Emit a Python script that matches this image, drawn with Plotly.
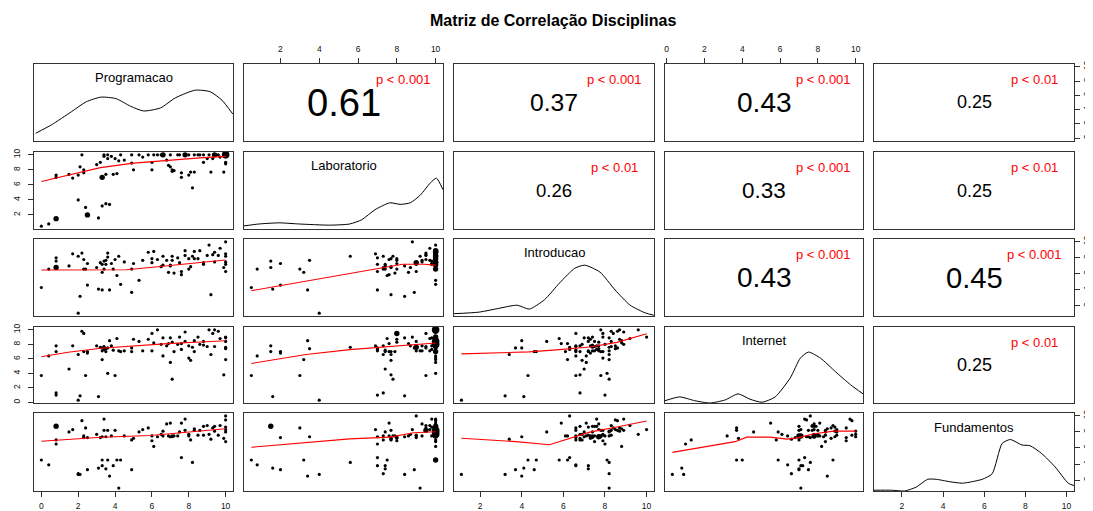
import plotly.graph_objects as go
from collections import Counter

# ---------------- data ----------------
variables = ["Programacao", "Laboratorio", "Introducao", "Internet", "Fundamentos"]

programacao = [0.0, 0.4, 0.8, 0.8, 0.8, 0.8, 1.5, 1.7, 2.0, 2.0,
               2.1, 2.2, 2.3, 2.5, 2.5, 2.4, 2.3, 3.0, 3.1, 3.2,
               3.3, 3.3, 3.3, 3.4, 3.4, 3.5, 3.5, 3.6, 3.6, 3.7,
               3.8, 3.9, 4.0, 4.1, 4.2, 4.3, 4.5, 4.9, 4.9, 5.0,
               5.3, 5.5, 5.8, 6.0, 6.0, 6.1, 6.3, 6.5, 6.6, 6.6,
               6.8, 6.9, 7.0, 7.0, 7.1, 7.1, 7.2, 7.4, 7.5, 7.6,
               7.6, 7.8, 7.8, 8.0, 8.0, 8.1, 8.2, 8.3, 8.3, 8.5,
               8.6, 8.8, 8.8, 9.0, 9.1, 9.2, 9.3, 9.4, 9.4, 9.6,
               9.7, 9.9, 10.0, 10.0, 10.0, 10.0, 10.0, 10.0]
laboratorio = [0.5, 0.8, 1.5, 1.5, 7.0, 7.3, 7.4, 6.9, 4.0, 7.3,
               8.4, 10.0, 8.0, 2.0, 2.0, 3.0, 7.6, 8.7, 1.6, 9.0,
               3.2, 7.0, 7.0, 10.0, 9.8, 3.5, 7.4, 9.5, 10.0, 3.4,
               9.8, 7.4, 9.5, 7.5, 9.2, 10.0, 9.3, 10.0, 8.9, 8.0,
               10.0, 9.7, 10.0, 9.0, 8.0, 10.0, 10.0, 10.0, 10.0, 10.0,
               9.3, 8.6, 8.4, 10.0, 8.0, 7.8, 7.9, 10.0, 10.0, 7.6,
               7.0, 10.0, 10.0, 10.0, 7.3, 7.7, 5.6, 7.7, 10.0, 10.0,
               10.0, 10.0, 9.0, 9.5, 10.0, 7.7, 9.5, 10.0, 10.0, 10.0,
               9.7, 7.7, 8.8, 10.0, 10.0, 9.8, 10.0, 9.0]
introducao = [4.3, 6.6, 7.6, 6.8, 8.0, 6.8, 7.0, 8.5, 1.1, 8.2,
              3.2, 8.6, 6.6, 4.6, 7.3, 6.6, 7.8, 6.8, 4.1, 7.4,
              6.2, 7.2, 4.0, 6.6, 7.6, 7.7, 7.2, 8.6, 8.1, 4.0,
              7.3, 6.6, 7.8, 5.8, 8.2, 4.7, 7.5, 6.6, 3.7, 7.3,
              5.2, 7.7, 8.7, 7.4, 7.9, 8.8, 7.8, 6.9, 8.2, 7.1,
              7.7, 6.2, 7.0, 7.1, 7.7, 8.2, 6.1, 8.0, 7.4, 5.9,
              6.3, 8.3, 8.9, 7.9, 6.6, 6.9, 8.2, 7.9, 8.8, 7.9,
              8.9, 7.4, 7.2, 8.3, 9.6, 3.4, 8.4, 8.7, 7.5, 8.3,
              9.2, 6.8, 10.0, 7.5, 8.5, 7.2, 8.2, 6.3]
internet = [3.7, 6.4, 7.8, 7.0, 1.0, 1.3, 4.6, 7.8, 0.3, 6.6,
            0.9, 9.8, 9.5, 7.0, 6.8, 3.7, 7.0, 7.8, 0.8, 7.6,
            5.9, 7.1, 7.5, 7.7, 7.3, 7.4, 7.0, 7.5, 4.0, 8.5,
            7.8, 7.2, 3.7, 8.8, 7.1, 7.0, 7.1, 7.0, 7.5, 8.7,
            8.4, 7.1, 8.7, 7.1, 9.5, 8.2, 10.0, 8.0, 8.9, 6.4,
            7.8, 8.1, 8.9, 5.5, 8.3, 3.2, 7.0, 8.0, 9.0, 8.1,
            7.3, 8.4, 9.7, 6.1, 7.8, 5.8, 7.6, 7.0, 8.5, 9.0,
            8.0, 7.9, 8.4, 7.7, 10.0, 6.6, 9.5, 10.0, 7.7, 9.8,
            8.8, 3.8, 9.0, 8.4, 7.4, 8.9, 5.9, 7.6]
fundamentos = [4.5, 3.9, 8.7, 8.7, 6.5, 7.0, 8.0, 8.3, 2.7, 2.8,
               2.7, 9.4, 7.3, 3.3, 7.3, 8.5, 7.5, 7.7, 3.5, 7.3,
               4.5, 3.8, 7.4, 8.2, 9.6, 7.4, 3.4, 8.2, 4.5, 2.5,
               7.5, 3.8, 8.2, 4.5, 1.0, 4.5, 7.5, 7.0, 3.3, 7.2,
               8.0, 8.3, 8.5, 7.5, 6.9, 6.2, 7.4, 7.7, 8.1, 7.5,
               9.0, 7.5, 7.4, 9.1, 7.4, 7.5, 7.5, 7.5, 8.0, 9.1,
               4.8, 8.2, 9.6, 7.7, 7.5, 7.0, 4.2, 8.2, 8.4, 7.6,
               8.2, 8.7, 7.6, 8.8, 7.7, 7.1, 8.5, 8.1, 8.7, 7.6,
               8.8, 7.2, 8.3, 6.8, 9.5, 8.6, 8.0, 10.0]

# correlations shown in the upper panels (row var, col var)
cor_pairs = [(0, 1), (0, 2), (0, 3), (0, 4), (1, 2), (1, 3), (1, 4), (2, 3), (2, 4), (3, 4)]
cor_values = [0.61, 0.37, 0.43, 0.25, 0.26, 0.33, 0.25, 0.43, 0.45, 0.25]
p_labels = ["p < 0.001", "p < 0.001", "p < 0.001", "p < 0.01", "p < 0.01",
            "p < 0.001", "p < 0.01", "p < 0.001", "p < 0.001", "p < 0.01"]

# smoothed (lowess) curves: x = column var, y = row var
smooth_lab_prog_x = [0.0, 1.5, 3.2, 5.0, 6.8, 8.6, 10.0]
smooth_lab_prog_y = [6.45, 7.3, 8.3, 8.9, 9.3, 9.6, 9.8]
smooth_int_prog_x = [0.0, 2.3, 4.6, 5.9, 7.7, 10.0]
smooth_int_prog_y = [6.48, 6.48, 6.52, 6.8, 7.23, 7.74]
smooth_net_prog_x = [0.0, 1.45, 3.24, 5.03, 6.83, 8.62, 10.0]
smooth_net_prog_y = [6.28, 6.91, 7.45, 7.82, 8.09, 8.32, 8.5]
smooth_fun_prog_x = [0.0, 3.24, 5.9, 7.9, 10.0]
smooth_fun_prog_y = [6.84, 7.34, 7.55, 7.97, 8.4]
smooth_int_lab_x = [0.5, 5.6, 7.0, 8.3, 9.4, 10.0]
smooth_int_lab_y = [3.9, 6.1, 6.7, 7.2, 7.2, 7.1]
smooth_net_lab_x = [0.5, 3.32, 5.57, 7.3, 10.0]
smooth_net_lab_y = [5.36, 6.59, 7.27, 7.64, 8.19]
smooth_fun_lab_x = [0.5, 3.32, 5.57, 7.65, 8.51, 8.86, 10.0]
smooth_fun_lab_y = [6.09, 6.72, 7.13, 7.35, 7.68, 7.89, 8.02]
smooth_net_int_x = [1.1, 2.75, 4.36, 5.82, 7.27, 8.57, 10.0]
smooth_net_int_y = [6.68, 6.82, 6.96, 7.27, 7.64, 8.27, 9.45]
smooth_fun_int_x = [1.1, 2.42, 3.72, 5.33, 5.98, 7.27, 8.57, 10.0]
smooth_fun_int_y = [7.22, 7.05, 6.79, 6.41, 6.92, 7.98, 8.61, 9.37]
smooth_fun_net_x = [0.3, 1.93, 3.62, 4.24, 5.48, 6.37, 6.9, 7.8, 8.85, 10.0]
smooth_fun_net_y = [5.45, 6.09, 6.79, 7.35, 7.35, 7.1, 7.26, 7.77, 8.1, 8.1]

# density curves on the diagonal: x in variable units, height as share of panel
dens_prog_x = [-0.31, 0.55, 1.63, 2.44, 3.24, 4.05, 4.85, 5.55, 6.47, 7.27, 8.35, 9.16, 9.8, 10.39]
dens_prog_h = [0.10, 0.21, 0.38, 0.51, 0.57, 0.55, 0.45, 0.39, 0.43, 0.56, 0.66, 0.64, 0.53, 0.35]
dens_lab_x = [0.12, 0.89, 1.93, 2.97, 4.53, 5.57, 6.19, 6.87, 7.64, 8.17, 8.69, 9.21, 9.73, 10.04, 10.38]
dens_lab_h = [0.04, 0.065, 0.08, 0.065, 0.05, 0.065, 0.12, 0.25, 0.34, 0.32, 0.34, 0.44, 0.6, 0.66, 0.51]
dens_int_x = [0.75, 1.94, 2.91, 3.78, 4.36, 5.09, 5.82, 6.55, 7.03, 7.76, 8.48, 9.21, 9.94, 10.35]
dens_int_h = [0.03, 0.05, 0.10, 0.14, 0.09, 0.21, 0.43, 0.62, 0.66, 0.57, 0.34, 0.14, 0.04, 0.01]
dens_net_x = [-0.09, 0.69, 1.49, 2.29, 3.09, 3.78, 4.41, 5.05, 5.74, 6.54, 7.07, 7.5, 8.14, 8.94, 9.73, 10.39]
dens_net_h = [0.03, 0.08, 0.03, 0.0, 0.04, 0.12, 0.05, 0.01, 0.08, 0.33, 0.59, 0.67, 0.59, 0.41, 0.24, 0.12]
dens_fun_x = [0.64, 1.5, 2.13, 2.69, 3.25, 3.66, 4.3, 4.94, 5.42, 5.9, 6.38, 6.87, 7.27, 7.83, 8.23, 8.79, 9.44, 10.08, 10.36]
dens_fun_h = [0.01, 0.01, 0.0, 0.05, 0.15, 0.15, 0.12, 0.10, 0.12, 0.15, 0.22, 0.61, 0.66, 0.59, 0.58, 0.48, 0.31, 0.10, 0.07]

title_text = "Matriz de Correlação Disciplinas"

# ---------------- layout geometry ----------------
W, H = 1093, 511
OFF = 8  # the page body adds an 8px margin; compensate so panels land where the reference has them
col_px = [(34, 233), (244, 443), (454, 654), (665, 863), (874, 1074)]
row_px = [(64, 141), (152, 229), (239, 316), (327, 403), (413, 491)]
FONT = "Liberation Sans, Arial, Helvetica, sans-serif"
BOX = "#333333"

data = [programacao, laboratorio, introducao, internet, fundamentos]
smooth = {
    (1, 0): (smooth_lab_prog_x, smooth_lab_prog_y),
    (2, 0): (smooth_int_prog_x, smooth_int_prog_y),
    (3, 0): (smooth_net_prog_x, smooth_net_prog_y),
    (4, 0): (smooth_fun_prog_x, smooth_fun_prog_y),
    (2, 1): (smooth_int_lab_x, smooth_int_lab_y),
    (3, 1): (smooth_net_lab_x, smooth_net_lab_y),
    (4, 1): (smooth_fun_lab_x, smooth_fun_lab_y),
    (3, 2): (smooth_net_int_x, smooth_net_int_y),
    (4, 2): (smooth_fun_int_x, smooth_fun_int_y),
    (4, 3): (smooth_fun_net_x, smooth_fun_net_y),
}
dens = [(dens_prog_x, dens_prog_h), (dens_lab_x, dens_lab_h), (dens_int_x, dens_int_h),
        (dens_net_x, dens_net_h), (dens_fun_x, dens_fun_h)]

ranges = []
ticks = []
for v in data:
    lo, hi = min(v), max(v)
    pad = 0.04 * (hi - lo)
    ranges.append([lo - pad, hi + pad])
    ticks.append([t for t in range(0, 11, 2) if lo - pad <= t <= hi + pad])

fig = go.Figure()
layout = {}
annotations = []

for i in range(5):
    for j in range(5):
        k = i * 5 + j + 1
        sfx = "" if k == 1 else str(k)
        xa, ya = "x" + sfx, "y" + sfx
        x0, x1 = (c - OFF for c in col_px[j])
        y0, y1 = (r - OFF for r in row_px[i])
        show_x = (i == 4 and j % 2 == 0) or (i == 0 and j % 2 == 1)
        show_y = (j == 0 and i % 2 == 1) or (j == 4 and i % 2 == 0)
        x_side = "top" if i == 0 else "bottom"
        y_side = "right" if j == 4 else "left"
        layout["xaxis" + sfx] = dict(
            domain=[x0 / W, x1 / W], range=ranges[j], anchor=ya,
            showgrid=False, zeroline=False, showline=True, mirror=True,
            linecolor=BOX, linewidth=1,
            ticks="outside" if show_x else "", ticklen=5, tickcolor=BOX, tickwidth=1,
            tickmode="array", tickvals=ticks[j] if show_x else [],
            showticklabels=show_x, side=x_side,
            tickfont=dict(family=FONT, size=8.5, color="#111"),
            ticklabelstandoff=2 if x_side == "bottom" else 3,
            ticklabeloverflow="allow",
            automargin=False, fixedrange=True)
        yax = dict(
            domain=[1 - y1 / H, 1 - y0 / H], range=ranges[i], anchor=xa,
            showgrid=False, zeroline=False, showline=True, mirror=True,
            linecolor=BOX, linewidth=1,
            ticks="outside" if show_y else "", ticklen=5, tickcolor=BOX, tickwidth=1,
            tickmode="array", tickvals=ticks[i] if show_y else [],
            showticklabels=show_y, side=y_side, tickangle=-90,
            tickfont=dict(family=FONT, size=8.5, color="#111"),
            ticklabeloverflow="allow",
            automargin=False, fixedrange=True)
        if y_side == "left":
            yax["ticklabelstandoff"] = 5
        layout["yaxis" + sfx] = yax

        if i > j:
            xs, ys = data[j], data[i]
            cnt = Counter(zip(xs, ys))
            pts = list(cnt.keys())
            sizes = [3.2 if cnt[p] == 1 else min(3.2 + 2.2 * (cnt[p] - 1), 8) for p in pts]
            fig.add_trace(go.Scatter(
                x=[p[0] for p in pts], y=[p[1] for p in pts], mode="markers",
                marker=dict(color="black", size=sizes, opacity=1, line=dict(width=0)),
                xaxis=xa, yaxis=ya, showlegend=False, hoverinfo="skip"))
            sx, sy = smooth[(i, j)]
            fig.add_trace(go.Scatter(
                x=sx, y=sy, mode="lines", line=dict(color="#ff0000", width=1.1),
                xaxis=xa, yaxis=ya, showlegend=False, hoverinfo="skip"))
        elif i == j:
            dx, dh = dens[i]
            lo, hi = ranges[i]
            fig.add_trace(go.Scatter(
                x=dx, y=[lo + h * (hi - lo) for h in dh], mode="lines",
                line=dict(color="black", width=1, shape="spline", smoothing=0.6),
                xaxis=xa, yaxis=ya, showlegend=False, hoverinfo="skip"))
            annotations.append(dict(
                text=variables[i], xref=xa + " domain", yref=ya + " domain",
                x=0.5, y=0.82, xanchor="center", yanchor="middle", showarrow=False,
                font=dict(family=FONT, size=13, color="black")))
        else:
            # empty trace so the panel's axes (box, ticks) are drawn
            fig.add_trace(go.Scatter(
                x=[None], y=[None], mode="markers", xaxis=xa, yaxis=ya,
                showlegend=False, hoverinfo="skip"))
            idx = cor_pairs.index((i, j))
            r = cor_values[idx]
            annotations.append(dict(
                text=f"{r:.2f}", xref=xa + " domain", yref=ya + " domain",
                x=0.5, y=0.5, xanchor="center", yanchor="middle", showarrow=False,
                font=dict(family=FONT, size=4 + 56 * abs(r), color="black")))
            annotations.append(dict(
                text=p_labels[idx], xref=xa + " domain", yref=ya + " domain",
                x=0.8, y=0.8, xanchor="center", yanchor="middle", showarrow=False,
                font=dict(family=FONT, size=13, color="#ff0000")))

annotations.append(dict(
    text="<b>" + title_text + "</b>", xref="paper", yref="paper",
    x=(553 - OFF) / W, y=1 - (20 - OFF) / H, showarrow=False, xanchor="center", yanchor="middle",
    font=dict(family=FONT, size=16, color="black")))

fig.update_layout(
    width=W, height=H, margin=dict(l=0, r=0, t=0, b=0),
    paper_bgcolor="white", plot_bgcolor="white",
    annotations=annotations, showlegend=False, **layout)

fig.write_html("out.html")
